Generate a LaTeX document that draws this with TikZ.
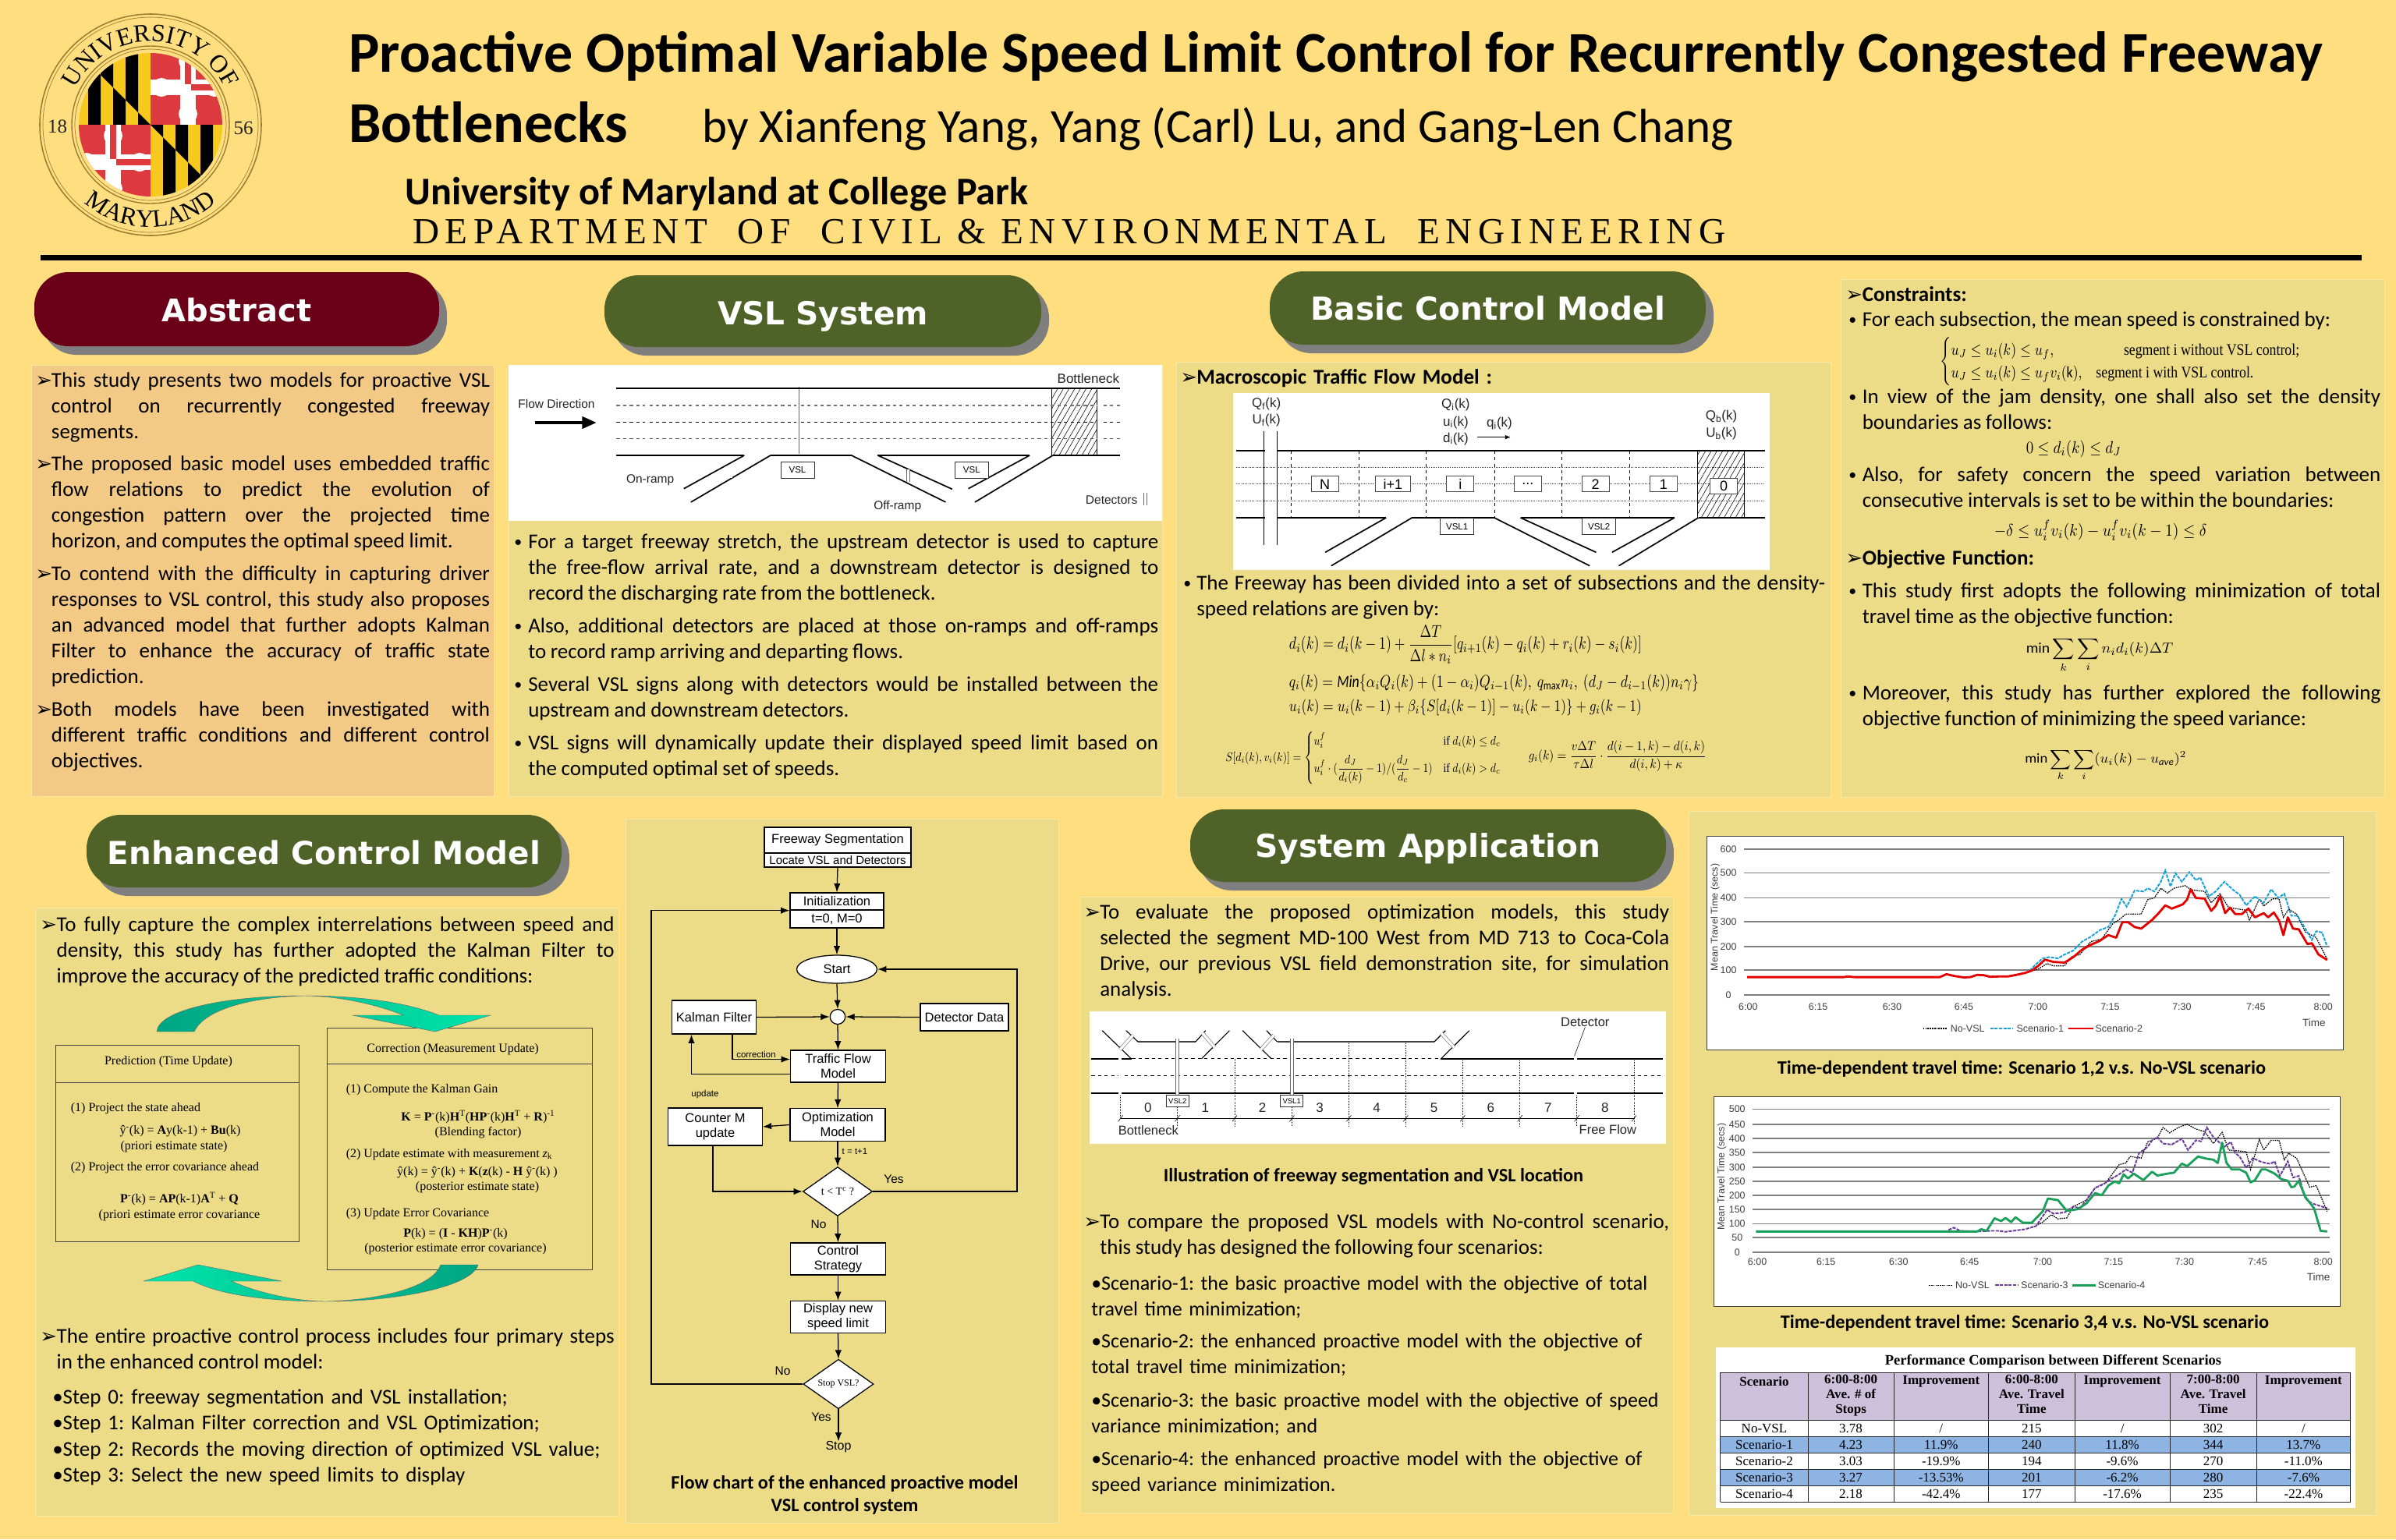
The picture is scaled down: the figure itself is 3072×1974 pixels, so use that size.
\documentclass[tikz,border=0pt]{standalone}
\usepackage{amsmath}
\usepackage{fontspec}
\usetikzlibrary{arrows.meta,shapes.geometric,shadows,patterns.meta,decorations.text,calc}
\setmainfont{Carlito}
\newfontfamily\tnr{Liberation Serif}
\newfontfamily\arl{Liberation Sans}
\newfontfamily\dvs{DejaVu Sans}
\newdimen\pxu \pxu=0.025cm
\newcommand\fs[2]{\fontsize{#1\pxu}{#2\pxu}\selectfont}
\newcommand\bodyf{\frenchspacing\fs{27}{33}}
\newcommand\scenf{\frenchspacing\fs{26}{33}}
\newcommand\fitw[2]{\resizebox{#1\pxu}{!}{#2}}
\newcommand\fitwh[3]{\resizebox*{#1\pxu}{#2\pxu}{#3}}
\newcommand\pilltxt[3]{\smash{\raisebox{-#2\pxu}{\fitw{#1}{\fontsize{30pt}{32pt}\selectfont #3}}}}
\newcommand\bul{\raisebox{2\pxu}{•}}
\newcommand\sealf{\fontsize{32\pxu}{32\pxu}\tnr\selectfont}
\definecolor{pagebg}{HTML}{FFDE80}
\definecolor{panelc}{HTML}{ECDC88}
\definecolor{absc}{HTML}{F2C985}
\definecolor{edgec}{HTML}{F7E9A5}
\definecolor{maroonc}{HTML}{6B0019}
\definecolor{olivec}{HTML}{4F6228}
\definecolor{shadowc}{HTML}{7F7F7F}
\definecolor{sealc}{HTML}{9A7F32}
\definecolor{mdred}{HTML}{DC3A3F}
\definecolor{mdgold}{HTML}{F7C81E}
\definecolor{hdrc}{HTML}{CCC0DA}
\definecolor{rowc}{HTML}{8DB4E2}
\definecolor{tealA}{HTML}{00A582}
\definecolor{tealB}{HTML}{00E6AC}
\definecolor{gridc}{HTML}{808080}
\definecolor{serblue}{HTML}{1BA1D9}
\definecolor{serpurple}{HTML}{6A3D9A}
\definecolor{sergreen}{HTML}{1AA05A}
\tikzset{
  panel/.style={draw=edgec,line width=0.7pt,fill=panelc},
  pillnode/.style={rounded corners=31pt,fill=#1,inner sep=0pt,text=white,font=\dvs\bfseries,
     drop shadow={shadow xshift=10\pxu,shadow yshift=-11\pxu,opacity=1,fill=shadowc}},
  ptext/.style={anchor=base west,inner sep=0pt,text width=#1\pxu,align=justify,font=\bodyf,
     execute at begin node={\tolerance=9999\emergencystretch=30pt\hyphenpenalty=10000\sloppy\spaceskip=5.6\pxu plus 15\pxu minus 1\pxu}},
  ptextl/.style={anchor=base west,inner sep=0pt,text width=#1\pxu,align=left,font=\bodyf,
     execute at begin node={\hyphenpenalty=10000}},
  pmark/.style={anchor=base west,inner sep=0pt,font=\dvs\fs{26}{26}},
  pbul/.style={anchor=base west,inner sep=0pt,font=\fs{20}{33}},
  eqn/.style={anchor=west,inner sep=0pt},
  captx/.style={inner sep=0pt,font=\bfseries\fs{24.3}{28},anchor=base},
  flowbox/.style={draw=black,fill=white,line width=0.9pt,inner sep=0pt,align=center,font=\arl\fs{16.5}{19}},
  flow/.style={draw=black,line width=0.9pt,-{Latex[length=8pt,width=6pt]}},
  flowlab/.style={inner sep=0pt,font=\arl\fs{15.5}{18}},
  flowsm/.style={inner sep=0pt,font=\arl\fs{11.5}{14}},
  kbox/.style={draw=black!75,line width=0.7pt},
  ktxt/.style={inner sep=0pt,font=\tnr\fs{16}{18},anchor=base},
  ktxl/.style={inner sep=0pt,font=\tnr\fs{16}{18},anchor=base west},
  road/.style={line width=1.6pt,draw=black},
  roadb/.style={line width=1.2pt,draw=black},
  det/.style={draw=black!60,line width=0.4pt,double=white,double distance=2.4pt},
  figl/.style={inner sep=0pt,font=\arl\fs{15.5}{18},text=black!85},
  signb/.style={draw=black!80,fill=white,line width=0.6pt,inner sep=0pt,font=\arl\fs{11.5}{14}},
  segb/.style={draw=black!70,fill=white,line width=0.6pt,inner sep=0pt,font=\arl\fs{18}{20}},
  gridl/.style={draw=gridc,line width=1.1pt},
  chl/.style={inner sep=0pt,font=\arl\fs{12.5}{14},text=black!75},
  sblack/.style={draw=black,line width=0.9pt,dash pattern=on 1.2pt off 0.8pt},
  sblue/.style={draw=serblue,line width=1.4pt,dash pattern=on 3pt off 1pt},
  sred/.style={draw=red!90!black,line width=2pt,line join=round},
  spurple/.style={draw=serpurple,line width=1.4pt,dash pattern=on 3pt off 1pt},
  sgreen/.style={draw=sergreen,line width=2pt,line join=round},
  tcell/.style={inner sep=0pt,font=\tnr\fs{17}{19}},
  thead/.style={inner sep=0pt,font=\tnr\bfseries\fs{17}{19}},
  cage/.style={draw=black!85,line width=0.6pt}
}
\newcommand\trow[9]{%
  \node[tcell] (r#1a) at (149.5,#2) {#3}; \node[tcell] (r#1b) at (352,#2) {#4};
  \node[tcell] (r#1c) at (563,#2) {#5}; \node[tcell] (r#1d) at (774.5,#2) {#6};
  \node[tcell] (r#1e) at (986.5,#2) {#7}; \node[tcell] (r#1f) at (1199,#2) {#8};
  \node[tcell] (r#1g) at (1410,#2) {#9};}
\newcommand\calvert{%
  \fill[mdgold] (0,0) rectangle (96,96);
  \foreach \a in {0,32,64}{
    \fill[black] (\a,0) -- (\a+16,0) -- (\a+16,\a+16) -- (\a,\a) -- cycle;
    \fill[black] (\a+16,\a+16) -- (\a+32,\a+32) -- (\a+32,96) -- (\a+16,96) -- cycle;}}
\newcommand\crossl{%
  \fill[mdred] (0,0) rectangle (96,96);
  \fill[white] (38,0) rectangle (58,96); \fill[white] (0,38) rectangle (96,58);
  \fill[white] (48,14) circle[radius=12] (48,82) circle[radius=12] (14,48) circle[radius=12] (82,48) circle[radius=12];
  \fill[mdred] (44,0) rectangle (52,44); \fill[mdred] (52,44) rectangle (96,52);}
\begin{document}
\begin{tikzpicture}[x=0.025cm,y=-0.025cm]
\useasboundingbox (0,0) rectangle (3072,1974);
\fill[pagebg] (0,0) rectangle (3072,1974);
% ---------- seal
\begin{scope}[shift={(193,160)}]
  \draw[sealc,line width=1.1pt] (0,0) circle[radius=142];
  \draw[sealc,line width=0.5pt] (0,0) circle[radius=138];
  \draw[sealc,line width=1pt] (0,0) circle[radius=101];
  \draw[sealc,line width=0.5pt] (0,0) circle[radius=97];
  \begin{scope}
    \clip (0,0) circle[radius=92];
    \begin{scope}[shift={(-96,-96)}]\calvert\end{scope}
    \begin{scope}[shift={(0,-96)}]\crossl\end{scope}
    \begin{scope}[shift={(-96,0)}]\crossl\end{scope}
    \begin{scope}[shift={(0,0)}]\calvert\end{scope}
  \end{scope}
  \begin{scope}[y=0.025cm]
    \path[postaction={decorate,decoration={text along path,text align={align=center},text={|\sealf|UNIVERSITY OF}}}]
       (165:107) arc[start angle=165,end angle=15,radius=107];
    \path[postaction={decorate,decoration={text along path,text align={align=center},text={|\sealf|MARYLAND}}}]
       (205:131) arc[start angle=205,end angle=335,radius=131];
  \end{scope}
  \node[inner sep=0pt,font=\tnr\fs{25}{25},text=black!85] (s18) at (-119.5,2) {18};
  \node[inner sep=0pt,font=\tnr\fs{25}{25},text=black!85] (s56) at (119,4) {56};
\end{scope}
% ---------- header
\node[anchor=base west,inner sep=0pt] (title1) at (447,92) {\fitw{2531}{\bfseries\fontsize{46pt}{50pt}\selectfont Proactive Optimal Variable Speed Limit Control for Recurrently Congested Freeway}};
\node[anchor=base west,inner sep=0pt] (title2) at (447,182) {\fitw{358}{\bfseries\fontsize{46pt}{50pt}\selectfont Bottlenecks}};
\node[anchor=base west,inner sep=0pt] (author) at (900,182) {\fitw{1322}{\fontsize{40pt}{44pt}\selectfont by Xianfeng Yang, Yang (Carl) Lu, and Gang-Len Chang}};
\node[anchor=base west,inner sep=0pt] (univ) at (519,262) {\fitw{799}{\bfseries\fontsize{36pt}{40pt}\selectfont University of Maryland at College Park}};
\node[anchor=base west,inner sep=0pt] (dept) at (529,312) {\fitw{1683}{\tnr\fontsize{30pt}{34pt}\selectfont\addfontfeature{LetterSpace=16}DEPARTMENT\ \ OF\ \ CIVIL \& ENVIRONMENTAL\ \ ENGINEERING}};
\fill[black] (52,327) rectangle (3028,334);
% ---------- panels
\path[panel,fill=absc] (40,468) rectangle (633,1021);
\path[panel] (652,468) rectangle (1490,1021);
\path[panel] (1508,464) rectangle (2347,1022);
\path[panel] (2360,358) rectangle (3057,1022);
\path[panel] (46,1164) rectangle (793,1944);
\path[panel] (802,1050) rectangle (1357,1953);
\path[panel] (1385,1150) rectangle (2145,1940);
\path[panel] (2165,1040) rectangle (3046,1943);
% ---------- pills
\node[pillnode=maroonc,minimum width=519\pxu,minimum height=95\pxu] (pabs) at (303.5,396.5) {\pilltxt{192}{16}{Abstract}};
\node[pillnode=olivec,minimum width=560\pxu,minimum height=92\pxu] (pvsl) at (1055,399) {\pilltxt{270}{17}{VSL System}};
\node[pillnode=olivec,minimum width=559\pxu,minimum height=94\pxu] (pbas) at (1907.5,395) {\pilltxt{455}{15.5}{Basic Control Model}};
\node[pillnode=olivec,minimum width=609\pxu,minimum height=93\pxu] (penh) at (415.5,1091.5) {\pilltxt{555}{17}{Enhanced Control Model}};
\node[pillnode=olivec,minimum width=610\pxu,minimum height=93\pxu] (psys) at (1831,1084.5) {\pilltxt{443}{15}{System Application}};
% ---------- abstract
\node[pmark] (am1) at (45,496) {➢};
\node[ptext=562] (a1) at (65.7,496) {This study presents two models for proactive VSL\linebreak control on recurrently congested freeway\linebreak segments.};
\node[pmark] (am2) at (45,603) {➢};
\node[ptext=562] (a2) at (65.7,603) {The proposed basic model uses embedded traffic\linebreak flow relations to predict the evolution of\linebreak congestion pattern over the projected time\linebreak horizon, and computes the optimal speed limit.};
\node[pmark] (am3) at (45,744.5) {➢};
\node[ptext=562] (a3) at (65.7,744.5) {To contend with the difficulty in capturing driver\linebreak responses to VSL control, this study also proposes\linebreak an advanced model that further adopts Kalman\linebreak Filter to enhance the accuracy of traffic state\linebreak prediction.};
\node[pmark] (am4) at (45,918) {➢};
\node[ptext=562] (a4) at (65.7,918) {Both models have been investigated with\linebreak different traffic conditions and different control\linebreak objectives.};
% ---------- VSL system
\fill[white] (652,468) rectangle (1490,668);
\begin{scope}[shift={(640,450)},xscale=.5612,yscale=.3333]
  \fill[pattern={Lines[angle=60,distance=4.5pt,line width=.4pt]},pattern color=black] (1263,145) rectangle (1365,402);
  \draw[black,line width=.5pt] (1263,145) -- (1263,402) (1365,145) -- (1365,402);
  \draw[black!55,line width=.8pt,dashed] (268,210) -- (1418,210);
  \draw[black,line width=.8pt,dashed] (268,274) -- (1418,274);
  \draw[black!65,line width=.8pt,dashed] (268,337) -- (1418,337);
  \draw[det] (337,138) -- (337,395); \draw[det] (682,138) -- (682,395); \draw[det] (1078,138) -- (1078,395); \draw[det] (1370,138) -- (1370,395);
  \draw[road] (268,145) -- (1418,145);
  \draw[road] (268,402) -- (560,402) (620,402) -- (805,402) (865,402) -- (1212,402) (1265,402) -- (1418,402);
  \draw[roadb] (560,402) -- (422,530) (620,402) -- (438,582) (805,402) -- (1020,582) (865,402) -- (1035,532) (1212,402) -- (1072,530) (1265,402) -- (1087,582);
  \draw[det] (529,440) -- (529,490); \draw[det] (935,455) -- (935,505); \draw[det] (1476,545) -- (1476,595);
  \node[signb,minimum width=43\pxu,minimum height=21\pxu] (v1) at (681.5,459) {VSL};
  \node[signb,minimum width=43\pxu,minimum height=21\pxu] (v2) at (1079.5,459) {VSL};
  \node[figl] (lfd) at (131,203) {Flow Direction};
  \node[figl] (lon) at (345,497) {On-ramp};
  \node[figl] (lof) at (910,600) {Off-ramp};
  \node[figl] (ldt) at (1399,574) {Detectors};
  \node[figl,font=\arl\fs{17}{18}] (lbn) at (1346,105) {Bottleneck};
  \coordinate (fda) at (82,276); \coordinate (fdb) at (222,276);
  \draw[line width=2.2pt,-{Triangle[length=13pt,width=11pt]}] (fda) -- (fdb);
\end{scope}
\node[pbul] (vb1) at (659,703) {\bul};
\node[ptext=808] (v1t) at (677,703) {For a target freeway stretch, the upstream detector is used to capture\linebreak the free-flow arrival rate, and a downstream detector is designed to\linebreak record the discharging rate from the bottleneck.};
\node[pbul] (vb2) at (659,811) {\bul};
\node[ptext=808] (v2t) at (677,811) {Also, additional detectors are placed at those on-ramps and off-ramps\linebreak to record ramp arriving and departing flows.};
\node[pbul] (vb3) at (659,886) {\bul};
\node[ptext=808] (v3t) at (677,886) {Several VSL signs along with detectors would be installed between the\linebreak upstream and downstream detectors.};
\node[pbul] (vb4) at (659,961) {\bul};
\node[ptext=808] (v4t) at (677,961) {VSL signs will dynamically update their displayed speed limit based on\linebreak the computed optimal set of speeds.};
% ---------- basic control model
\node[pmark] (bm1) at (1513,492) {➢};
\node[ptextl=800,font=\bodyf\bfseries] (b1) at (1534,492) {Macroscopic Traffic Flow Model :};
\fill[white] (1581,504) rectangle (2269,731);
\begin{scope}[shift={(1540,490)},xscale=.51,yscale=.3333]
  \fill[pattern={Lines[angle=60,distance=4.5pt,line width=.4pt]},pattern color=black] (1248,263) rectangle (1365,522);
  \draw[black,line width=.5pt] (1248,263) -- (1248,522) (1365,263) -- (1365,522);
  \draw[road] (88,263) -- (160,263) (190,263) -- (1418,263);
  \draw[road] (88,522) -- (160,522) (190,522) -- (465,522) (530,522) -- (737,522) (803,522) -- (1190,522) (1250,522) -- (1418,522);
  \draw[black!80,line width=.6pt,densely dotted] (88,328) -- (1415,328) (88,390) -- (1415,390) (88,457) -- (1415,457);
  \draw[black,line width=.5pt] (158,188) -- (158,628) (190,188) -- (190,628);
  \foreach \q in {226,397,566,737,907,1077}{\draw[black,line width=.5pt,dashed] (\q,263) -- (\q,522);}
  \draw[roadb] (465,522) -- (312,655) (530,522) -- (327,707) (737,522) -- (977,707) (803,522) -- (993,655) (1190,522) -- (1033,655) (1250,522) -- (1050,707);
  \node[segb,minimum width=35\pxu,minimum height=20\pxu] (sgN) at (311,392.5) {N};
  \node[segb,minimum width=45\pxu,minimum height=20\pxu] (sgi1) at (482,392.5) {i+1};
  \node[segb,minimum width=35\pxu,minimum height=20\pxu] (sgi) at (651.5,392.5) {i};
  \node[segb,minimum width=35\pxu,minimum height=20\pxu] (sgd) at (821.5,392.5) {...};
  \node[segb,minimum width=35\pxu,minimum height=20\pxu] (sg2) at (991.5,392.5) {2};
  \node[segb,minimum width=35\pxu,minimum height=20\pxu] (sg1) at (1162.5,392.5) {1};
  \node[segb,minimum width=35\pxu,minimum height=20\pxu] (sg0) at (1314,401) {0};
  \node[signb,minimum width=43\pxu,minimum height=21\pxu] (vs1) at (643.5,556) {VSL1};
  \node[signb,minimum width=43\pxu,minimum height=21\pxu] (vs2) at (1000.5,556) {VSL2};
  \node[figl,font=\arl\fs{17}{18}] (qf) at (164,85) {Q\textsubscript{f}(k)};
  \node[figl,font=\arl\fs{17}{18}] (uf) at (164,148) {U\textsubscript{f}(k)};
  \node[figl,font=\arl\fs{17}{18}] (qi) at (640,88) {Q\textsubscript{i}(k)};
  \node[figl,font=\arl\fs{17}{18}] (ui) at (640,155) {u\textsubscript{i}(k)};
  \node[figl,font=\arl\fs{17}{18}] (di) at (640,218) {d\textsubscript{i}(k)};
  \node[figl,font=\arl\fs{17}{18}] (qq) at (750,160) {q\textsubscript{i}(k)};
  \node[figl,font=\arl\fs{17}{18}] (qb) at (1308,133) {Q\textsubscript{b}(k)};
  \node[figl,font=\arl\fs{17}{18}] (ub) at (1308,198) {U\textsubscript{b}(k)};
  \coordinate (qa) at (695,212); \coordinate (qc) at (778,212);
  \draw[black,line width=.6pt,-{Latex[length=5pt,width=4pt]}] (qa) -- (qc);
\end{scope}
\node[pbul] (bb1) at (1517,756.5) {\bul};
\node[ptext=806] (b2) at (1534,756.5) {The Freeway has been divided into a set of subsections and the density-\linebreak speed relations are given by:};
\node[eqn] (e1) at (1652.6,827) {\fitwh{452}{49}{$d_i(k)=d_i(k-1)+\dfrac{\Delta T}{\Delta l*n_i}[q_{i+1}(k)-q_i(k)+r_i(k)-s_i(k)]$}};
\node[eqn] (e2) at (1652.6,876) {\fitwh{525}{22}{$q_i(k)=\mathit{Min}\{\alpha_i Q_i(k)+(1-\alpha_i)Q_{i-1}(k),\ q_{\max}n_i,\ (d_J-d_{i-1}(k))n_i\gamma\}$}};
\node[eqn] (e3) at (1652.6,907) {\fitwh{452}{21}{$u_i(k)=u_i(k-1)+\beta_i\{S[d_i(k-1)]-u_i(k-1)\}+g_i(k-1)$}};
\node[eqn] (e4) at (1571,972) {\fitwh{354}{67}{$S[d_i(k),v_i(k)]=\begin{cases}u_i^f & \text{\tnr if }d_i(k)\le d_c\\[4pt] u_i^f\cdot(\dfrac{d_J}{d_i(k)}-1)/(\dfrac{d_J}{d_c}-1) & \text{\tnr if }d_i(k)>d_c\end{cases}$}};
\node[eqn] (e5) at (1959.5,970) {\fitwh{228}{40}{$g_i(k)=\dfrac{v\Delta T}{\tau\Delta l}\cdot\dfrac{d(i-1,k)-d(i,k)}{d(i,k)+\kappa}$}};
% ---------- constraints
\node[pmark] (cm1) at (2366,386) {➢};
\node[ptextl=660,font=\bodyf\bfseries] (c1) at (2387.5,386) {Constraints:};
\node[pbul] (cb1) at (2370,418.4) {\bul};
\node[ptext=664.5] (c2) at (2387.5,418.4) {For each subsection, the mean speed is constrained by:};
\node[eqn] (ce1) at (2487,464) {\fitwh{463}{62}{$\begin{cases}u_J\le u_i(k)\le u_f, & \quad\quad\text{\tnr segment i without VSL control;}\\ u_J\le u_i(k)\le u_f v_i(\mathrm{k}), & \text{\tnr segment i with VSL control.}\end{cases}$}};
\node[pbul] (cb2) at (2370,517) {\bul};
\node[ptext=664.5] (c3) at (2387.5,517) {In view of the jam density, one shall also set the density\linebreak boundaries as follows:};
\node[eqn] (ce2) at (2597.5,576) {\fitwh{122}{22}{$0\le d_i(k)\le d_J$}};
\node[pbul] (cb3) at (2370,617) {\bul};
\node[ptext=664.5] (c4) at (2387.5,617) {Also, for safety concern the speed variation between\linebreak consecutive intervals is set to be within the boundaries:};
\node[eqn] (ce3) at (2556.5,680) {\fitwh{272.5}{27}{$-\delta\le u_i^f v_i(k)-u_i^f v_i(k-1)\le\delta$}};
\node[pmark] (cm2) at (2366,724.4) {➢};
\node[ptextl=660,font=\bodyf\bfseries] (c5) at (2387.5,724.4) {Objective Function:};
\node[pbul] (cb4) at (2370,766.5) {\bul};
\node[ptext=664.5] (c6) at (2387.5,766.5) {This study first adopts the following minimization of total\linebreak travel time as the objective function:};
\node[eqn] (ce4) at (2597.5,840) {\fitwh{188.5}{44}{$\min\displaystyle\sum_k\sum_i n_i d_i(k)\Delta T$}};
\node[pbul] (cb5) at (2370,897) {\bul};
\node[ptext=664.5] (c7) at (2387.5,897) {Moreover, this study has further explored the following\linebreak objective function of minimizing the speed variance:};
\node[eqn] (ce5) at (2596,981) {\fitwh{207}{41}{$\min\displaystyle\sum_k\sum_i (u_i(k)-u_{\mathit{ave}})^2$}};
% ---------- enhanced control model
\node[pmark] (em1) at (51,1194) {➢};
\node[ptext=715] (e1t) at (72.4,1194) {To fully capture the complex interrelations between speed and\linebreak density, this study has further adopted the Kalman Filter to\linebreak improve the accuracy of the predicted traffic conditions:};
\draw[kbox] (71,1340) rectangle (383,1592); \draw[kbox] (71,1388) -- (383,1388);
\draw[kbox] (419,1318) rectangle (759.5,1628); \draw[kbox] (419,1364) -- (759.5,1364);
\node[ktxt] (k1) at (216,1365) {Prediction (Time Update)};
\node[ktxl] (k2) at (90.6,1425) {(1) Project the state ahead};
\node[ktxt] (k3) at (231,1454) {ŷ\textsuperscript{-}(k) = \textbf{A}y(k-1) + \textbf{Bu}(k)};
\node[ktxt] (k4) at (223,1474) {(priori estimate state)};
\node[ktxl] (k5) at (90.6,1501) {(2) Project the error covariance ahead};
\node[ktxt] (k6) at (230,1542) {\textbf{P}\textsuperscript{-}(k) = \textbf{AP}(k-1)\textbf{A}\textsuperscript{T} + \textbf{Q}};
\node[ktxt] (k7) at (230,1562) {(priori estimate error covariance};
\node[ktxt] (k8) at (580.6,1349) {Correction (Measurement Update)};
\node[ktxl] (k9) at (443.5,1401) {(1) Compute the Kalman Gain};
\node[ktxt] (k10) at (613,1437) {\textbf{K} = \textbf{P}\textsuperscript{-}(k)\textbf{H}\textsuperscript{T}(\textbf{HP}\textsuperscript{-}(k)\textbf{H}\textsuperscript{T} + \textbf{R})\textsuperscript{-1}};
\node[ktxt] (k11) at (613,1456) {(Blending factor)};
\node[ktxl] (k12) at (443.5,1484) {(2) Update estimate with measurement \textit{z}\textsubscript{k}};
\node[ktxt] (k13) at (612,1507) {ŷ(k) = ŷ\textsuperscript{-}(k) + \textbf{K}(\textbf{z}(k) - \textbf{H} ŷ\textsuperscript{-}(k) )};
\node[ktxt] (k14) at (612,1526) {(posterior estimate state)};
\node[ktxl] (k15) at (443.5,1560) {(3) Update Error Covariance};
\node[ktxt] (k16) at (584,1586) {\textbf{P}(k) = (\textbf{I} - \textbf{KH})\textbf{P}\textsuperscript{-}(k)};
\node[ktxt] (k17) at (584,1605) {(posterior estimate error covariance)};
% curved arrows
\path[draw=black!60,line width=.3pt,left color=tealA,right color=tealB]
  (201,1323) .. controls (203,1295) and (290,1277) .. (389,1277)
  .. controls (460,1277) and (520,1285) .. (563,1302)
  -- (629,1302) -- (558,1323) -- (452,1302) -- (517,1302)
  .. controls (480,1287) and (430,1277) .. (389,1277)
  .. controls (320,1279) and (262,1295) .. (249,1323) -- cycle;
\path[draw=black!60,line width=.3pt,left color=tealB,right color=tealA]
  (613,1622) .. controls (605,1650) and (510,1669) .. (418,1669)
  .. controls (340,1669) and (280,1660) .. (248,1643)
  -- (184,1643) -- (254,1622) -- (361,1643) -- (297,1643)
  .. controls (330,1658) and (380,1669) .. (418,1669)
  .. controls (490,1667) and (555,1650) .. (565,1622) -- cycle;
\node[pmark] (em2) at (51,1722) {➢};
\node[ptext=715] (e2t) at (72.4,1722) {The entire proactive control process includes four primary steps\linebreak in the enhanced control model:};
\node[ptextl=720] (s0) at (67,1800.7) {•Step 0: freeway segmentation and VSL installation;};
\node[ptextl=720] (s1) at (67,1833.5) {•Step 1: Kalman Filter correction and VSL Optimization;};
\node[ptextl=720] (s2) at (67,1867) {•Step 2: Records the moving direction of optimized VSL value;};
\node[ptextl=720] (s3) at (67,1900) {•Step 3: Select the new speed limits to display};
% ---------- flow chart
\node[flowbox,minimum width=188\pxu,minimum height=33\pxu] (fs) at (1074,1077.5) {Freeway Segmentation};
\node[flowbox,minimum width=188\pxu,minimum height=18\pxu,font=\arl\fs{15}{18}] (fl) at (1074,1103) {Locate VSL and Detectors};
\node[flowbox,minimum width=120\pxu,minimum height=22\pxu] (ia) at (1073,1156) {Initialization};
\node[flowbox,minimum width=120\pxu,minimum height=23\pxu] (ib) at (1073,1178.5) {t=0, M=0};
\node[flowbox,ellipse,minimum width=103\pxu,minimum height=36\pxu] (st) at (1073,1243) {Start};
\node[flowbox,ellipse,minimum width=19.5\pxu,minimum height=19\pxu] (jn) at (1074,1304) {};
\node[flowbox,minimum width=108\pxu,minimum height=43\pxu] (kf) at (915.5,1304.5) {Kalman Filter};
\node[flowbox,minimum width=113\pxu,minimum height=35\pxu] (dd) at (1236.5,1304.5) {Detector Data};
\node[flowbox,minimum width=122\pxu,minimum height=41\pxu] (tf) at (1074.5,1367.5) {Traffic Flow\\Model};
\node[flowbox,minimum width=122\pxu,minimum height=41.5\pxu] (om) at (1074,1442.5) {Optimization\\Model};
\node[flowbox,minimum width=120.5\pxu,minimum height=48\pxu] (cm) at (917,1445) {Counter M\\update};
\node[flowbox,diamond,minimum width=89\pxu,minimum height=63\pxu,font=\tnr\fs{14}{16}] (dt) at (1074,1528) {t < T\textsuperscript{c} ?};
\node[flowbox,minimum width=122\pxu,minimum height=41\pxu] (cs) at (1074.5,1614.5) {Control\\Strategy};
\node[flowbox,minimum width=122\pxu,minimum height=41\pxu] (dn) at (1074.5,1689) {Display new\\speed limit};
\node[flowbox,diamond,minimum width=90\pxu,minimum height=63\pxu,font=\tnr\fs{12}{14}] (sv) at (1075,1775) {Stop VSL?};
\node[flowlab,font=\arl\fs{16}{18}] (sp) at (1075,1856) {Stop};
\coordinate (ll) at (835,1775);
\coordinate (lr) at (1304,1528);
\draw[flow] (fl.south) -- (ia.north);
\draw[flow] (ib.south) -- (st.north);
\draw[flow] (st.south) -- (jn.north);
\draw[flow] (kf.east) -- (jn.west);
\draw[flow] (dd.west) -- (jn.east);
\draw[flow] (jn.south) -- (tf.north);
\draw[flow] (tf.south) -- (om.north);
\draw[flow] (om.west) -- (cm.east);
\draw[flow] (om.south) -- (dt.north);
\draw[flow] (dt.south) -- (cs.north);
\draw[flow] (cs.south) -- (dn.north);
\draw[flow] (dn.south) -- (sv.north);
\draw[flow] (sv.south) -- (sp.north);
\draw[flow] ([xshift=23.5\pxu]kf.south) |- ([yshift=9\pxu]tf.west);
\draw[flow] ([yshift=-10\pxu]tf.west) -| ([xshift=-29\pxu]kf.south);
\draw[flow] ([xshift=-3\pxu]cm.south) |- (dt.west);
\draw[flow] (dt.east) -- (dt.east -| lr) -- (st.east -| lr) -- (st.east);
\draw[flow] (sv.west) -- (sv.west -| ll) -- (ia.south west -| ll) -- (ia.south west);
\node[flowsm] (lc) at (969.5,1352) {correction};
\node[flowsm] (lu) at (904,1404) {update};
\node[flowsm] (lt) at (1096,1477) {t = t+1};
\node[flowlab] (ly1) at (1146,1512) {Yes};
\node[flowlab] (ln1) at (1049.5,1570) {No};
\node[flowlab] (ln2) at (1003.5,1758) {No};
\node[flowlab] (ly2) at (1053,1817) {Yes};
\node[captx] (fc1) at (1083,1909) {Flow chart of the enhanced proactive model};
\node[captx] (fc2) at (1083,1938) {VSL control system};
% ---------- system application
\node[pmark] (am5) at (1389,1178) {➢};
\node[ptext=730] (sa1) at (1410,1178) {To evaluate the proposed optimization models, this study\linebreak selected the segment MD-100 West from MD 713 to Coca-Cola\linebreak Drive, our previous VSL field demonstration site, for simulation\linebreak analysis.};
\fill[white] (1397,1297) rectangle (2136,1467);
\begin{scope}[shift={(1380,1270)},xscale=.51,yscale=.3333]
  \draw[black,line width=.8pt,dashed] (140,263) -- (915,263) (38,329) -- (1475,329);
  \draw[black!75,line width=1pt] (155,198) -- (300,198) (505,198) -- (900,198);
  \draw[black,line width=.8pt] (65,155) -- (138,263) (125,155) -- (155,198) (385,155) -- (315,263) (325,155) -- (300,198) (418,155) -- (490,263) (478,155) -- (505,198) (988,155) -- (917,263) (928,155) -- (900,198);
  \foreach \q/\a/\b in {111/405/490,254/405/525,398/263/525,542/405/525,685/198/525,828/198/525,971/263/525,1115/263/525,1258/405/525,1402/263/510}{
    \draw[black,line width=.5pt,densely dotted] (\q,\a) -- (\q,\b);}
  \draw[roadb] (38,263) -- (140,263) (915,263) -- (1475,263) (38,395) -- (1475,395);
  \draw[det] (110,253) -- (110,405); \draw[det] (254,187) -- (254,405); \draw[det] (542,187) -- (542,405); \draw[det] (1255,253) -- (1255,405);
  \draw[det] (110,228) -- (143,172); \draw[det] (317,165) -- (348,220); \draw[det] (464,228) -- (497,172); \draw[det] (917,165) -- (950,220);
  \draw[black,line width=.6pt] (111,493) -- (1402,493);
  \foreach \q in {111,254,398,542,685,828,971,1115,1258,1402}{\draw[black,line width=.4pt] (\q-6,505) -- (\q+6,481);}
  \node[signb,minimum width=29\pxu,minimum height=15\pxu,font=\arl\fs{9.5}{11}] (sv2) at (254.5,427) {VSL2};
  \node[signb,minimum width=29\pxu,minimum height=15\pxu,font=\arl\fs{9.5}{11}] (sv1) at (541.5,427) {VSL1};
  \foreach \n/\q in {0/180,1/324,2/468,3/612,4/755,5/899,6/1042,7/1186,8/1329}{
    \node[figl,font=\arl\fs{17}{18}] (num\n) at (\q,452) {\n};}
  \node[figl,font=\arl\fs{16.5}{18}] (fbn) at (181,540) {Bottleneck};
  \node[figl,font=\arl\fs{16.5}{18}] (fff) at (1336,535) {Free Flow};
  \node[figl,font=\arl\fs{16.5}{18}] (fdt) at (1279,124) {Detector};
  \coordinate (fdl) at (1252,253);
  \draw[black,line width=.4pt] (fdt.south) -- (fdl);
\end{scope}
\node[captx] (sc1) at (1761,1515) {Illustration of freeway segmentation and VSL location};
\node[pmark] (am6) at (1389,1575) {➢};
\node[ptext=730] (sa2) at (1410,1575) {To compare the proposed VSL models with No-control scenario,\linebreak this study has designed the following four scenarios:};
\node[ptextl=742,font=\scenf] (sc2) at (1399,1654) {•Scenario-1: the basic proactive model with the objective of total\\travel time minimization;};
\node[ptextl=742,font=\scenf] (sc3) at (1399,1728) {•Scenario-2: the enhanced proactive model with the objective of\\total travel time minimization;};
\node[ptextl=742,font=\scenf] (sc4) at (1399,1804) {•Scenario-3: the basic proactive model with the objective of speed\\variance minimization; and};
\node[ptextl=742,font=\scenf] (sc5) at (1399,1879) {•Scenario-4: the enhanced proactive model with the objective of\\speed variance minimization.};
% ---------- charts
\begin{scope}[shift={(2170,1050)},xscale=.5612,yscale=.4145]
  \fill[white] (33,53) rectangle (1486,715); \draw[black!75,line width=.6pt] (33,53) rectangle (1486,715);
  \foreach \v/\q in {600/94,500/168,400/245,300/319,200/395,100/468,0/545}{
    \draw[gridl] (118,\q) -- (1455,\q); \node[chl] (ya\v) at (82,\q) {\v};}
  \foreach \t/\q in {6:00/127,6:15/287,6:30/456,6:45/620,7:00/789,7:15/954,7:30/1118,7:45/1287,8:00/1441}{
    \node[chl] at (\q,583) {\t};}
  \node[chl,rotate=90] (ytta) at (52,305) {Mean Travel Time (secs)};
  \node[chl,font=\arl\fs{13.5}{15}] (tma) at (1420,631) {Time};
  \draw[sblack] (770,472)--(790,465)--(810,448)--(825,455)--(850,455)--(865,428)--(885,420)--(910,380)--(935,372)--(960,325)--(975,312)--(990,295)--(1025,295)--(1040,250)--(1055,245)--(1070,215)--(1085,230)--(1100,215)--(1125,207)--(1140,220)--(1170,225)--(1185,260)--(1205,232)--(1225,275)--(1265,283)--(1272,315)--(1295,248)--(1305,270)--(1325,248)--(1340,248)--(1350,305)--(1362,280)--(1380,295)--(1400,350)--(1425,368)--(1450,435);
  \draw[sblue] (770,470)--(785,450)--(800,432)--(815,428)--(835,432)--(850,420)--(870,408)--(890,380)--(910,365)--(930,345)--(950,335)--(965,300)--(980,248)--(992,272)--(1010,222)--(1030,225)--(1040,215)--(1055,225)--(1070,195)--(1080,160)--(1092,210)--(1103,168)--(1118,195)--(1135,165)--(1150,190)--(1160,182)--(1180,240)--(1195,225)--(1215,195)--(1235,220)--(1250,235)--(1265,268)--(1285,240)--(1305,260)--(1322,218)--(1338,245)--(1352,232)--(1368,300)--(1382,300)--(1400,340)--(1415,375)--(1425,348)--(1438,352)--(1450,395);
  \draw[sred] (125,490)--(345,490)--(355,488)--(370,490)--(565,490)--(580,481)--(600,487)--(620,491)--(635,490)--(650,483)--(665,484)--(680,489)--(700,488)--(720,488)--(740,483)--(760,477)--(775,470)--(790,455)--(805,436)--(825,443)--(850,445)--(870,428)--(890,405)--(910,390)--(930,378)--(950,360)--(968,368)--(982,320)--(995,320)--(1010,335)--(1025,340)--(1050,313)--(1065,292)--(1080,268)--(1095,278)--(1120,265)--(1130,250)--(1138,218)--(1150,245)--(1170,247)--(1185,285)--(1195,270)--(1205,240)--(1217,292)--(1228,275)--(1240,295)--(1255,295)--(1270,278)--(1285,305)--(1305,292)--(1315,305)--(1328,290)--(1340,315)--(1350,360)--(1360,305)--(1372,340)--(1385,342)--(1405,388)--(1415,385)--(1430,420)--(1450,437);
  \draw[sblack] (527,649) -- (580,649); \node[chl,anchor=west] (la1) at (589,649) {No-VSL};
  \draw[sblue] (680,649) -- (733,649); \node[chl,anchor=west] (la2) at (740,649) {Scenario-1};
  \draw[sred] (858,649) -- (915,649); \node[chl,anchor=west] (la3) at (920,649) {Scenario-2};
  %
  \fill[white] (48,860) rectangle (1480,1509); \draw[black!75,line width=.6pt] (48,860) rectangle (1480,1509);
  \foreach \v/\q in {500/899,450/945,400/989,350/1032,300/1078,250/1122,200/1165,150/1208,100/1253,50/1296,0/1341}{
    \draw[gridl] (137,\q) -- (1455,\q); \node[chl] (yb\v) at (102,\q) {\v};}
  \foreach \t/\q in {6:00/148,6:15/305,6:30/471,6:45/633,7:00/800,7:15/962,7:30/1124,7:45/1291,8:00/1441}{
    \node[chl] at (\q,1371) {\t};}
  \node[chl,rotate=90] (yttb) at (67,1108) {Mean Travel Time (secs)};
  \node[chl,font=\arl\fs{13.5}{15}] (tmb) at (1430,1418) {Time};
  \draw[sblack] (780,1262)--(800,1248)--(820,1225)--(835,1238)--(855,1235)--(870,1200)--(900,1180)--(920,1142)--(945,1125)--(975,1070)--(990,1065)--(1000,1045)--(1025,1050)--(1040,1000)--(1062,988)--(1075,955)--(1090,972)--(1110,955)--(1130,945)--(1150,960)--(1170,968)--(1190,1005)--(1210,970)--(1225,1025)--(1265,1030)--(1275,1085)--(1295,992)--(1305,1025)--(1322,995)--(1340,995)--(1352,1055)--(1362,1035)--(1380,1050)--(1410,1140)--(1425,1135)--(1450,1215);
  \draw[spurple] (585,1272)--(597,1265)--(612,1275)--(650,1277)--(680,1275)--(700,1275)--(715,1278)--(760,1270)--(785,1260)--(810,1210)--(825,1222)--(850,1218)--(870,1200)--(885,1205)--(900,1180)--(920,1142)--(940,1130)--(955,1115)--(975,1100)--(990,1085)--(1005,1095)--(1020,1035)--(1040,1015)--(1050,995)--(1062,985)--(1075,1005)--(1095,1008)--(1118,990)--(1132,1025)--(1150,995)--(1162,998)--(1175,955)--(1190,985)--(1215,1015)--(1230,1000)--(1240,1035)--(1250,1045)--(1265,1080)--(1280,1050)--(1300,1062)--(1320,1068)--(1330,1060)--(1342,1105)--(1360,1060)--(1372,1110)--(1385,1105)--(1400,1175)--(1415,1190)--(1450,1205);
  \draw[sgreen] (145,1277)--(650,1277)--(660,1270)--(672,1275)--(690,1236)--(705,1245)--(715,1235)--(728,1248)--(738,1233)--(755,1250)--(775,1250)--(800,1215)--(812,1175)--(835,1180)--(855,1213)--(880,1208)--(900,1190)--(920,1158)--(935,1165)--(950,1135)--(965,1122)--(975,1128)--(985,1100)--(995,1113)--(1008,1098)--(1030,1118)--(1050,1092)--(1062,1104)--(1085,1098)--(1100,1095)--(1118,1067)--(1130,1075)--(1155,1045)--(1175,1052)--(1190,1055)--(1200,1065)--(1210,1002)--(1220,1065)--(1232,1085)--(1250,1085)--(1265,1095)--(1275,1125)--(1285,1118)--(1300,1085)--(1310,1085)--(1330,1098)--(1345,1115)--(1360,1120)--(1368,1140)--(1375,1138)--(1385,1120)--(1400,1170)--(1420,1205)--(1435,1275)--(1450,1277);
  \draw[sblack] (540,1443) -- (593,1443); \node[chl,anchor=west] (lb1) at (600,1443) {No-VSL};
  \draw[spurple] (692,1443) -- (745,1443); \node[chl,anchor=west] (lb2) at (750,1443) {Scenario-3};
  \draw[sgreen] (868,1443) -- (922,1443); \node[chl,anchor=west] (lb3) at (926,1443) {Scenario-4};
\end{scope}
\node[captx] (cc1) at (2592,1377) {Time-dependent travel time: Scenario 1,2 v.s. No-VSL scenario};
\node[captx] (cc2) at (2596,1703) {Time-dependent travel time: Scenario 3,4 v.s. No-VSL scenario};
% ---------- table
\begin{scope}[shift={(2180,1710)},xscale=.5485,yscale=.3333]
  \fill[white] (37,55) rectangle (1532,672);
  \fill[hdrc] (47,150) rectangle (1520,333);
  \fill[rowc] (47,397) rectangle (1520,460);
  \fill[rowc] (47,523) rectangle (1520,586);
  \foreach \q in {150,333,397,460,523,586,648}{\draw[cage] (47,\q) -- (1520,\q);}
  \foreach \q in {47,252,452,674,875,1098,1300,1520}{\draw[cage] (\q,150) -- (\q,648);}
  \node[inner sep=0pt,font=\tnr\bfseries\fs{18.5}{20}] (ttl) at (825,108) {Performance Comparison between Different Scenarios};
  \node[thead] (h1) at (149.5,185) {Scenario};
  \node[thead,align=center,anchor=north] (h2) at (352,160) {6:00-8:00\\Ave. \# of\\Stops};
  \node[thead] (h3) at (563,185) {Improvement};
  \node[thead,align=center,anchor=north] (h4) at (774.5,160) {6:00-8:00\\Ave. Travel\\Time};
  \node[thead] (h5) at (986.5,185) {Improvement};
  \node[thead,align=center,anchor=north] (h6) at (1199,160) {7:00-8:00\\Ave. Travel\\Time};
  \node[thead] (h7) at (1410,185) {Improvement};
  \trow{a}{365}{No-VSL}{3.78}{/}{215}{/}{302}{/}
  \trow{b}{429}{Scenario-1}{4.23}{11.9\%}{240}{11.8\%}{344}{13.7\%}
  \trow{c}{491.5}{Scenario-2}{3.03}{-19.9\%}{194}{-9.6\%}{270}{-11.0\%}
  \trow{d}{554.5}{Scenario-3}{3.27}{-13.53\%}{201}{-6.2\%}{280}{-7.6\%}
  \trow{e}{617}{Scenario-4}{2.18}{-42.4\%}{177}{-17.6\%}{235}{-22.4\%}
\end{scope}
\end{tikzpicture}
\end{document}
